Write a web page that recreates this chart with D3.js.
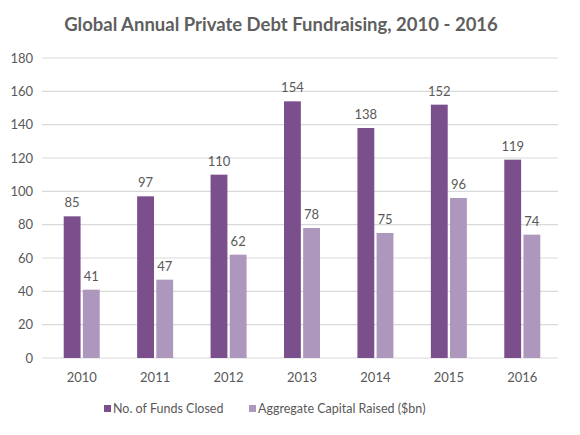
<!DOCTYPE html>
<html>
<head>
<meta charset="utf-8">
<script src="https://cdn.jsdelivr.net/npm/d3@7"></script>
<style>
  body { margin: 0; background: #fff; }
  text { font-family: Lato, "Noto Sans", sans-serif; fill: #595959; }
</style>
</head>
<body>
<script>
//chart data
var years = ["2010", "2011", "2012", "2013", "2014", "2015", "2016"];
var fundsClosed = [85, 97, 110, 154, 138, 152, 119];
var capitalRaised = [41, 47, 62, 78, 75, 96, 74];
var seriesNames = ["No. of Funds Closed", "Aggregate Capital Raised ($bn)"];
var yTicks = [0, 20, 40, 60, 80, 100, 120, 140, 160, 180];

var width = 580, height = 435;
var colors = ["#7b4f8b", "#ae97bd"];

var svg = d3.select("body")
    .append("svg")
    .attr("width", width)
    .attr("height", height);

//scales
var x = d3.scaleBand()
    .domain(years)
    .range([45, 559]);

var xInner = d3.scaleBand()
    .domain([0, 1])
    .range([-18, 18])
    .paddingInner(0.12);

var y = d3.scaleLinear()
    .domain([0, 180])
    .range([358, 58]);

//gridlines
svg.selectAll(".grid")
    .data(yTicks)
    .enter()
    .append("line")
    .attr("x1", 42)
    .attr("x2", 558)
    .attr("y1", function (d) { return y(d); })
    .attr("y2", function (d) { return y(d); })
    .style("stroke", "#d9d9d9")
    .style("stroke-width", 1.2);

//y axis labels
svg.selectAll(".ylab")
    .data(yTicks)
    .enter()
    .append("text")
    .attr("x", 33)
    .attr("y", function (d) { return y(d) + 4.5; })
    .attr("text-anchor", "end")
    .style("font-size", "13px")
    .text(function (d) { return d; });

//x axis labels
svg.selectAll(".xlab")
    .data(years)
    .enter()
    .append("text")
    .attr("x", function (d) { return x(d) + x.bandwidth() / 2; })
    .attr("y", 382)
    .attr("text-anchor", "middle")
    .style("font-size", "13px")
    .text(function (d) { return d; });

//bars and value labels for each series
[fundsClosed, capitalRaised].forEach(function (vals, s) {
    var rows = years.map(function (yr, i) { return { year: yr, value: vals[i] }; });

    svg.selectAll(".bar" + s)
        .data(rows)
        .enter()
        .append("rect")
        .attr("x", function (d) { return x(d.year) + x.bandwidth() / 2 + xInner(s); })
        .attr("width", xInner.bandwidth())
        .attr("y", function (d) { return y(d.value); })
        .attr("height", function (d) { return y(0) - y(d.value); })
        .style("fill", colors[s]);

    svg.selectAll(".num" + s)
        .data(rows)
        .enter()
        .append("text")
        .attr("x", function (d) { return x(d.year) + x.bandwidth() / 2 + xInner(s) + xInner.bandwidth() / 2; })
        .attr("y", function (d) { return y(d.value) - 9; })
        .attr("text-anchor", "middle")
        .style("font-size", "13px")
        .text(function (d) { return d.value; });
});

//title
svg.append("text")
    .attr("x", 281)
    .attr("y", 31)
    .attr("text-anchor", "middle")
    .style("font-size", "18.5px")
    .style("font-weight", "bold")
    .style("fill", "#5f5f5f")
    .text("Global Annual Private Debt Fundraising, 2010 - 2016");

//legend
var legendX = [104, 249];
seriesNames.forEach(function (name, s) {
    svg.append("rect")
        .attr("x", legendX[s])
        .attr("y", 405)
        .attr("width", 7)
        .attr("height", 7)
        .style("fill", colors[s]);
    svg.append("text")
        .attr("x", legendX[s] + 9)
        .attr("y", 413)
        .style("font-size", "12.5px")
        .text(name);
});
</script>
</body>
</html>
